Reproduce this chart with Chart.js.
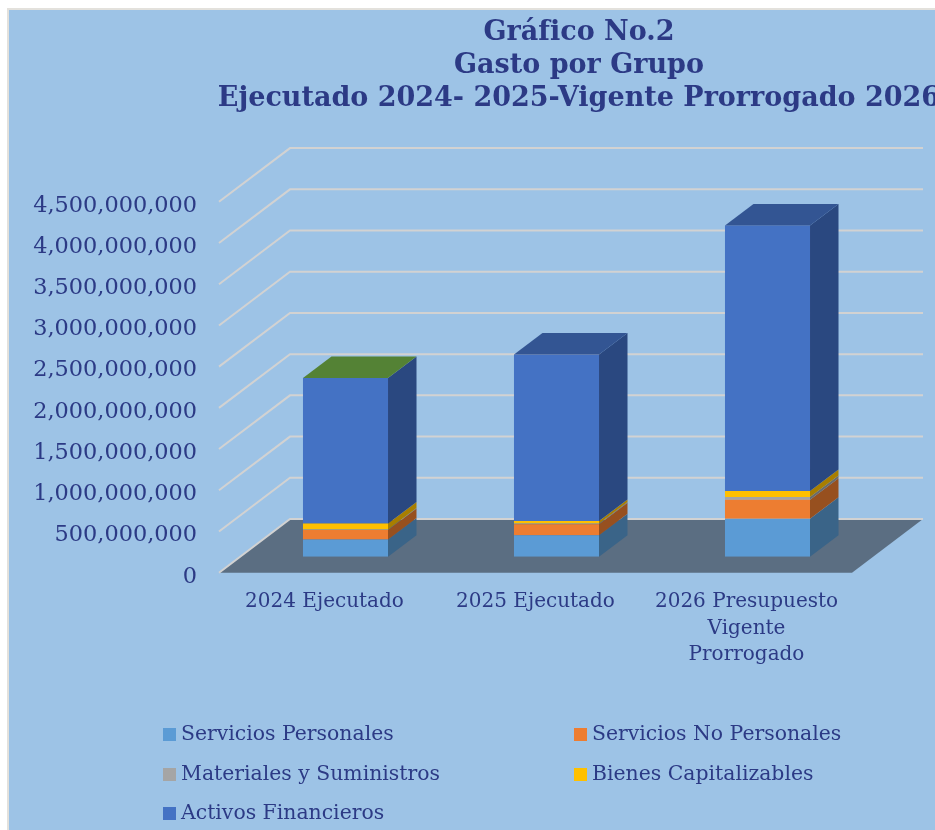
<!DOCTYPE html>
<html lang="es">
<head>
<meta charset="utf-8">
<title>Gasto por Grupo</title>
<script src="https://cdn.jsdelivr.net/npm/chart.js@4/dist/chart.umd.min.js"></script>
<style>
  html, body { margin: 0; padding: 0; width: 935px; height: 830px; overflow: hidden; background: #fff; }
  #panel { position: absolute; left: 7px; top: 8px; width: 940px; height: 830px; background: #9DC3E6; border: 2px solid #E3E1DC; }
  #wrap { position: absolute; left: 0; top: 0; width: 935px; height: 830px; overflow: hidden; }
</style>
</head>
<body>
<div id="panel"></div>
<div id="wrap"><canvas id="gastoChart" width="1158" height="830"></canvas></div>
<script>
// Chart data
const categories = ['2024 Ejecutado', '2025 Ejecutado', ['2026 Presupuesto', 'Vigente', 'Prorrogado']];
const titleLines = ['Gráfico No.2', 'Gasto por Grupo', 'Ejecutado 2024- 2025-Vigente Prorrogado 2026'];

const seriesNames = ['Servicios Personales', 'Servicios No Personales', 'Materiales y Suministros', 'Bienes Capitalizables', 'Activos Financieros'];
const serviciosPersonales = [210000000, 260000000, 459000000];
const serviciosNoPersonales = [113000000, 134000000, 231000000];
const materiales = [8000000, 8000000, 33000000];
const bienesCapitalizables = [72000000, 30000000, 73000000];
const activosFinancieros = [1764000000, 2020000000, 3222000000];

const frontColors = ['#5B9BD5', '#ED7D31', '#A5A5A5', '#FFC000', '#4472C4'];
const sideColors = ['#3A6488', '#97501F', '#6B6B6B', '#A87E00', '#2A4880'];
const topColors = ['#548235', '#335593', '#335593'];

const textColor = '#2C3A85';
const fontFamily = '"DejaVu Serif", "Liberation Serif", serif';

// Projection of the 3D look, pixels away from the plane the bars stand on
const depth = { bar: { x: 28.5, y: -21.5 }, front: { x: -21, y: 16 }, back: { x: 50, y: -37.7 } };

// Legend layout
const legendCols = [163, 574];
const legendRows = [734, 774, 813];

const seriesValues = [serviciosPersonales, serviciosNoPersonales, materiales, bienesCapitalizables, activosFinancieros];

function polygon(ctx, points, color) {
  ctx.fillStyle = color;
  ctx.beginPath();
  points.forEach(([x, y], i) => (i ? ctx.lineTo(x, y) : ctx.moveTo(x, y)));
  ctx.closePath();
  ctx.fill();
}

// The title is centred on the whole canvas, not on the space left by the padding
const titleSpanPlugin = {
  id: 'titleSpan',
  afterLayout(chart) {
    chart.titleBlock.left = 0;
    chart.titleBlock.right = chart.width;
  },
};

// Floor and walls behind the bars, built from the y scale
const wallsPlugin = {
  id: 'walls',
  beforeDatasetsDraw(chart) {
    const { ctx, chartArea: area, scales: { y } } = chart;
    const f = depth.front;
    const b = depth.back;
    const zero = y.getPixelForValue(0);
    ctx.save();
    polygon(ctx, [
      [area.left + f.x, zero + f.y],
      [area.right + f.x, zero + f.y],
      [area.right + b.x, zero + b.y],
      [area.left + b.x, zero + b.y],
    ], '#5B6E82');
    ctx.strokeStyle = '#D2D2D2';
    ctx.lineWidth = 2;
    y.ticks.forEach((tick) => {
      const py = y.getPixelForValue(tick.value);
      ctx.beginPath();
      ctx.moveTo(area.left + f.x, py + f.y);
      ctx.lineTo(area.left + b.x, py + b.y);
      ctx.lineTo(area.right + b.x, py + b.y);
      ctx.stroke();
    });
    ctx.restore();
  },
};

// Side and top faces of each stacked bar
const facesPlugin = {
  id: 'faces',
  afterDatasetsDraw(chart) {
    const { ctx } = chart;
    const d = depth.bar;
    ctx.save();
    chart.data.datasets.forEach((dataset, i) => {
      chart.getDatasetMeta(i).data.forEach((bar, j) => {
        const right = bar.x + bar.width / 2;
        const left = bar.x - bar.width / 2;
        polygon(ctx, [
          [right, bar.y],
          [right + d.x, bar.y + d.y],
          [right + d.x, bar.base + d.y],
          [right, bar.base],
        ], sideColors[i]);
        if (i === chart.data.datasets.length - 1) {
          polygon(ctx, [
            [left, bar.y],
            [right, bar.y],
            [right + d.x, bar.y + d.y],
            [left + d.x, bar.y + d.y],
          ], topColors[j]);
        }
      });
    });
    ctx.restore();
  },
};

// Two column legend, the built-in one cannot line up its columns
const gridLegendPlugin = {
  id: 'gridLegend',
  afterDraw(chart) {
    const { ctx } = chart;
    ctx.save();
    ctx.font = '20.4px ' + fontFamily;
    ctx.textBaseline = 'middle';
    chart.data.datasets.forEach((dataset, i) => {
      const x = legendCols[i % 2];
      const y = legendRows[Math.floor(i / 2)];
      ctx.fillStyle = dataset.backgroundColor;
      ctx.fillRect(x, y - 6, 13, 13);
      ctx.fillStyle = textColor;
      ctx.fillText(dataset.label, x + 18, y + 1);
    });
    ctx.restore();
  },
};

new Chart(document.getElementById('gastoChart'), {
  type: 'bar',
  data: {
    labels: categories,
    datasets: seriesNames.map((name, i) => ({
      label: name,
      data: seriesValues[i],
      backgroundColor: frontColors[i],
      borderWidth: 0,
      barPercentage: 0.403,
      categoryPercentage: 1,
    })),
  },
  plugins: [titleSpanPlugin, wallsPlugin, facesPlugin, gridLegendPlugin],
  options: {
    responsive: false,
    animation: false,
    layout: { padding: { left: 0, right: 285, top: 0, bottom: 0 } },
    plugins: {
      legend: { display: false },
      tooltip: { enabled: false },
      title: {
        display: true,
        text: titleLines,
        color: textColor,
        font: { family: fontFamily, size: 27, weight: 'bold', lineHeight: 1.22 },
        padding: { top: 17, bottom: 70 },
      },
    },
    scales: {
      x: {
        stacked: true,
        grid: { display: false, drawTicks: false },
        border: { display: false },
        afterFit(scale) { scale.height = 273.3; },
        ticks: {
          color: textColor,
          font: { family: fontFamily, size: 20, lineHeight: 1.33 },
          padding: 32,
          labelOffset: -21,
          maxRotation: 0,
          autoSkip: false,
        },
      },
      y: {
        stacked: true,
        min: 0,
        max: 4500000000,
        grid: { display: false, drawTicks: false },
        border: { display: false },
        afterFit(scale) { scale.width = 240; },
        ticks: {
          stepSize: 500000000,
          color: textColor,
          font: { family: fontFamily, size: 22.4 },
          padding: 43,
          labelOffset: 20,
          callback: (value) => value.toLocaleString('en-US'),
        },
      },
    },
  },
});
</script>
</body>
</html>
